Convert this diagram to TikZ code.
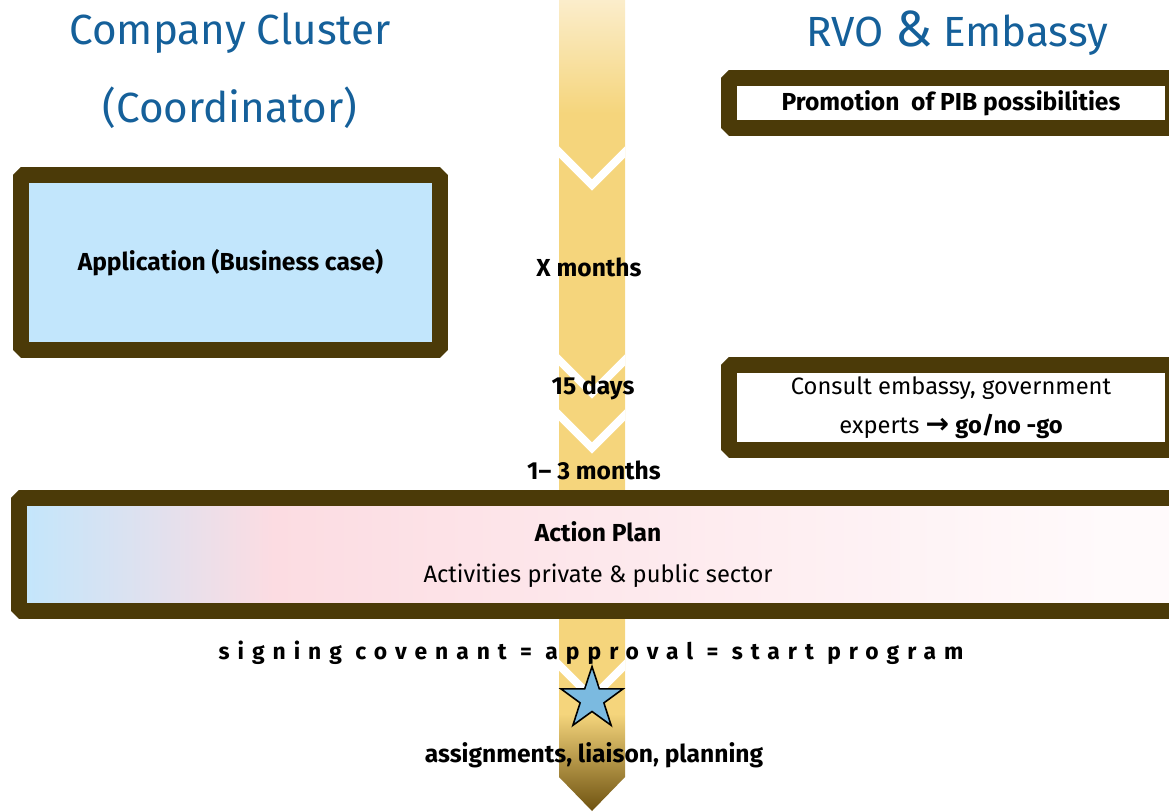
\documentclass[tikz,border=0pt]{standalone}
\usepackage{fontspec}
\setmainfont{Fira Sans}
\newfontfamily\symfont{DejaVu Sans}
\usetikzlibrary{shapes.geometric}

\definecolor{frame}{RGB}{75,58,8}
\definecolor{titleblue}{RGB}{21,96,154}
\definecolor{appblue}{RGB}{194,230,252}
\definecolor{planpink}{RGB}{252,220,226}
\definecolor{planwhite}{RGB}{255,250,251}
\definecolor{bandlight}{RGB}{251,237,203}
\definecolor{bandyellow}{RGB}{245,213,124}
\definecolor{bandbrown}{RGB}{110,82,16}
\definecolor{starblue}{RGB}{123,186,224}

% time line: pale at the top, dark at the tip
\pgfdeclareverticalshading{timeline}{100bp}{color(0bp)=(bandbrown); color(25bp)=(bandbrown);
  color(31bp)=(bandyellow); color(68bp)=(bandyellow); color(75bp)=(bandlight); color(100bp)=(bandlight)}
\pgfdeclarehorizontalshading{planfill}{100bp}{color(0bp)=(appblue); color(25bp)=(appblue);
  color(36bp)=(planpink); color(72bp)=(planwhite); color(100bp)=(planwhite)}

\begin{document}
\begin{tikzpicture}[x=0.02cm, y=-0.02cm,
    box/.style={rectangle, draw=frame, line width=0.32cm, line join=bevel, inner sep=0pt, align=center},
    lbl/.style={font=\fontsize{14}{16}\selectfont\bfseries},
    head/.style={text=titleblue, font=\fontsize{24}{28}\selectfont}]

\useasboundingbox (0,0) rectangle (1169,811);

% the arrow down the middle
\shade[shading=timeline] (559,0) -- (625,0) -- (625,777) -- (592,811) -- (559,777) -- cycle;
\begin{scope}
  \clip (559,0) -- (625,0) -- (625,777) -- (592,811) -- (559,777) -- cycle;
  \foreach \y in {152,360,415,665}
    \draw[white, line width=0.16cm, line join=miter] (553,\y-6) -- (592,\y+33) -- (631,\y-6);
\end{scope}

\draw
    node at(230,33)[head,name=cluster]{Company Cluster}
    node at(230,108)[head,name=coord]{(Coordinator)}
    node at(957,33)[head,name=rvo]{RVO {\fontsize{29}{29}\selectfont\&} Embassy}

    node at(951,103)[box,fill=white,minimum width=8.88cm,minimum height=1cm,lbl,name=promo]{Promotion\ \ of PIB possibilities}
    node at(230.5,262.5)[box,fill=appblue,minimum width=8.38cm,minimum height=3.5cm,lbl,name=appl]{Application (Business case)}
    node at(951,407.5)[box,fill=white,minimum width=8.88cm,minimum height=1.7cm,
        font=\fontsize{13.5}{22}\selectfont,name=consult]{Consult embassy, government\\experts {\symfont\bfseries\fontsize{16}{16}\selectfont →}\ \textbf{go/no -go}}
    node at(598,554.5)[box,shading=planfill,minimum width=23.16cm,minimum height=2.26cm,
        font=\fontsize{13.5}{23}\selectfont,name=plan]{\textbf{\fontsize{14}{16}\selectfont Action Plan}\\Activities private \& public sector}

    node at(589,267)[lbl,name=xmonths]{X months}
    node at(593,388)[lbl,name=days]{15 days}
    node at(594,470)[lbl,name=months]{1– 3 months}
;

\node[star, star points=5, star point ratio=2.6, minimum size=1.3cm, inner sep=0pt,
    draw=black, line width=0.9pt, fill=starblue] (approved) at (592,699) {};

\draw
    node at(591,653)[font=\fontsize{13}{15}\selectfont\bfseries,name=sign]{\addfontfeature{LetterSpace=35}signing covenant = approval = start program}
    node at(594,755)[lbl,name=assign]{assignments, liaison, planning}
;

\end{tikzpicture}
\end{document}
